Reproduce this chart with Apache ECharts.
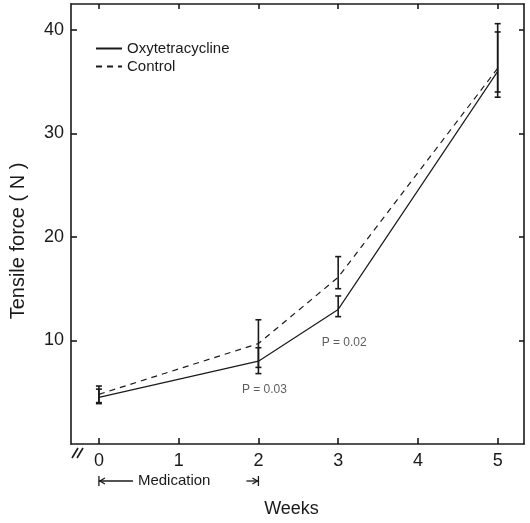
<!DOCTYPE html>
<html>
<head>
<meta charset="utf-8">
<script src="https://cdn.jsdelivr.net/npm/echarts@6/dist/echarts.min.js"></script>
<style>
  html, body { margin: 0; padding: 0; background: #fff; }
  #chart { width: 530px; height: 523px; }
</style>
</head>
<body>
<div id="chart"></div>
<script>
// values
const weeks = [0, 2, 3, 5];
const oxyMean = [4.5, 8.0, 13.0, 36.0];
const oxyLow = [3.9, 6.8, 12.3, 33.5];
const oxyHigh = [5.3, 9.3, 14.3, 39.8];
const controlMean = [4.8, 9.7, 16.1, 36.3];
const controlLow = [4.0, 7.4, 15.0, 34.0];
const controlHigh = [5.6, 12.0, 18.1, 40.6];
const weekTicks = [0, 1, 2, 3, 4, 5];
const forceTicks = [10, 20, 30, 40];
const pNotes = [
  { week: 2, value: 5.6, text: "P = 0.03" },
  { week: 3, value: 10.2, text: "P = 0.02" },
];

const FONT = "Liberation Sans";
const INK = "#1a1a1a";

const chart = echarts.init(document.getElementById("chart"), null, { renderer: "canvas" });

const errorBars = (low, high) => ({
  type: "custom",
  silent: true,
  z: 5,
  data: weeks.map((w, i) => [w, low[i], high[i]]),
  renderItem: (params, api) => {
    const lo = api.coord([api.value(0), api.value(1)]);
    const hi = api.coord([api.value(0), api.value(2)]);
    const cap = 3;
    const style = { stroke: INK, lineWidth: 1.6 };
    return {
      type: "group",
      children: [
        { type: "line", shape: { x1: lo[0], y1: lo[1], x2: hi[0], y2: hi[1] }, style },
        { type: "line", shape: { x1: lo[0] - cap, y1: lo[1], x2: lo[0] + cap, y2: lo[1] }, style },
        { type: "line", shape: { x1: hi[0] - cap, y1: hi[1], x2: hi[0] + cap, y2: hi[1] }, style },
      ],
    };
  },
});

const axisBase = {
  axisLine: { show: true, onZero: false, lineStyle: { color: INK, width: 1.6 } },
  splitLine: { show: false },
};

const option = {
  animation: false,
  grid: { left: 70, right: 6, top: 4, bottom: 70 },
  legend: {
    orient: "vertical",
    left: 90,
    top: 36,
    itemWidth: 26,
    itemHeight: 10,
    itemGap: 3,
    itemStyle: { opacity: 0 },
    textStyle: { fontFamily: FONT, fontSize: 15, color: INK },
    data: ["Oxytetracycline", "Control"],
  },
  xAxis: [
    {
      ...axisBase,
      type: "value",
      min: -0.35,
      max: 5.33,
      name: "Weeks",
      nameLocation: "middle",
      nameGap: 56,
      nameTextStyle: { fontFamily: FONT, fontSize: 18, color: INK, padding: [0, 0, 0, -12] },
      axisTick: { inside: true, length: 6, lineStyle: { color: INK, width: 1.6 }, customValues: weekTicks },
      axisLabel: { fontFamily: FONT, fontSize: 18, color: INK, margin: 8, customValues: weekTicks },
    },
    {
      ...axisBase,
      type: "value",
      position: "top",
      min: -0.35,
      max: 5.33,
      axisTick: { inside: true, length: 5, lineStyle: { color: INK, width: 1.6 }, customValues: weekTicks },
      axisLabel: { show: false },
    },
  ],
  yAxis: [
    {
      ...axisBase,
      type: "value",
      min: 0,
      max: 42.5,
      name: "Tensile force ( N )",
      nameLocation: "middle",
      nameGap: 43,
      nameTextStyle: { fontFamily: FONT, fontSize: 20, color: INK, padding: [0, 34, 0, 0] },
      axisTick: { inside: true, length: 6, lineStyle: { color: INK, width: 1.6 }, customValues: forceTicks },
      axisLabel: { fontFamily: FONT, fontSize: 18, color: INK, margin: 7, customValues: forceTicks },
    },
    {
      ...axisBase,
      type: "value",
      position: "right",
      min: 0,
      max: 42.5,
      axisTick: { inside: true, length: 5, lineStyle: { color: INK, width: 1.6 }, customValues: forceTicks },
      axisLabel: { show: false },
    },
  ],
  series: [
    {
      name: "Oxytetracycline",
      type: "line",
      symbol: "none",
      lineStyle: { color: INK, width: 1.2, type: "solid" },
      itemStyle: { color: INK },
      data: weeks.map((w, i) => [w, oxyMean[i]]),
    },
    {
      name: "Control",
      type: "line",
      symbol: "none",
      lineStyle: { color: INK, width: 1.2, type: [6, 5] },
      itemStyle: { color: INK },
      data: weeks.map((w, i) => [w, controlMean[i]]),
    },
    errorBars(oxyLow, oxyHigh),
    errorBars(controlLow, controlHigh),
    {
      type: "scatter",
      symbolSize: 0,
      silent: true,
      data: pNotes.map((p) => [p.week, p.value]),
      label: {
        show: true,
        position: "inside",
        offset: [6, 4],
        formatter: (d) => pNotes[d.dataIndex].text,
        fontFamily: FONT,
        fontSize: 12,
        color: "#333",
      },
    },
  ],
};

chart.setOption(option);

// axis break mark and the medication span under the x axis
const p0 = chart.convertToPixel({ xAxisIndex: 0, yAxisIndex: 0 }, [0, 0]);
const p2 = chart.convertToPixel({ xAxisIndex: 0, yAxisIndex: 0 }, [2, 0]);
const medY = p0[1] + 37;
const gStyle = { stroke: INK, lineWidth: 1.3 };
chart.setOption({
  graphic: [
    { type: "line", shape: { x1: 72, y1: 458, x2: 78, y2: 448 }, style: { stroke: INK, lineWidth: 1.6 } },
    { type: "line", shape: { x1: 77, y1: 458, x2: 83, y2: 448 }, style: { stroke: INK, lineWidth: 1.6 } },
    { type: "line", shape: { x1: p0[0], y1: medY - 5, x2: p0[0], y2: medY + 5 }, style: gStyle },
    { type: "line", shape: { x1: p2[0], y1: medY - 5, x2: p2[0], y2: medY + 5 }, style: gStyle },
    { type: "line", shape: { x1: p0[0], y1: medY, x2: p0[0] + 34, y2: medY }, style: gStyle },
    { type: "polyline", shape: { points: [[p0[0] + 6, medY - 3], [p0[0] + 1, medY], [p0[0] + 6, medY + 3]] }, style: gStyle },
    { type: "line", shape: { x1: p2[0] - 12, y1: medY, x2: p2[0], y2: medY }, style: gStyle },
    { type: "polyline", shape: { points: [[p2[0] - 6, medY - 3], [p2[0] - 1, medY], [p2[0] - 6, medY + 3]] }, style: gStyle },
    {
      type: "text",
      x: p0[0] + 39,
      y: medY,
      style: { text: "Medication", fontFamily: FONT, fontSize: 15, fill: INK, verticalAlign: "middle" },
    },
  ],
});
</script>
</body>
</html>
